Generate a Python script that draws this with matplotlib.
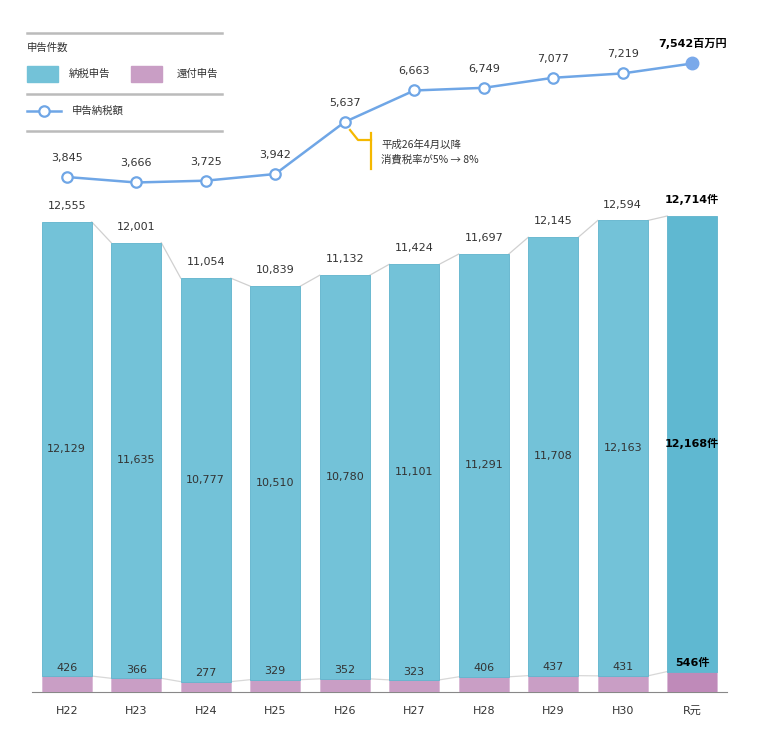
import numpy as np
import matplotlib.pyplot as plt

plt.rcParams['font.family'] = ['DejaVu Sans', 'Noto Sans CJK JP']

years = ['H22', 'H23', 'H24', 'H25', 'H26', 'H27', 'H28', 'H29', 'H30', 'R元']
payment = [12129, 11635, 10777, 10510, 10780, 11101, 11291, 11708, 12163, 12168]
refund = [426, 366, 277, 329, 352, 323, 406, 437, 431, 546]
totals = [12555, 12001, 11054, 10839, 11132, 11424, 11697, 12145, 12594, 12714]
tax_amount = [3845, 3666, 3725, 3942, 5637, 6663, 6749, 7077, 7219, 7542]

W, H = 758, 736
fig = plt.figure(figsize=(W / 100, H / 100), dpi=100)

def px(x0, y0, x1, y1):
    # pixel box (top-left origin) -> figure fraction
    return [x0 / W, 1 - y1 / H, (x1 - x0) / W, (y1 - y0) / H]

blue = '#73c2d8'
blue_last = '#5fb8d1'
pink = '#c99ec5'
pink_last = '#bf8ab9'
line_c = '#6fa6e6'
gray_txt = '#333333'

base_y = 692
scale = 0.03744  # px per unit
ax = fig.add_axes(px(32, 0, 727, base_y))
ax.set_xlim(-0.5, 9.5)
ax.set_ylim(0, base_y / scale)

x = np.arange(len(years))
bw = 0.72
pc = [blue] * 9 + [blue_last]
rc = [pink] * 9 + [pink_last]
ax.bar(x, refund, bw, color=rc, edgecolor='#d9b8d6', linewidth=0.6, zorder=3)
ax.bar(x, payment, bw, bottom=refund, color=pc, edgecolor='#5fb3cc', linewidth=0.6, zorder=3)

# connector lines between bars
for i in range(len(x) - 1):
    ax.plot([x[i] + bw / 2, x[i + 1] - bw / 2], [totals[i], totals[i + 1]],
            color='#d0d0d0', lw=0.9, zorder=2)
    ax.plot([x[i] + bw / 2, x[i + 1] - bw / 2], [refund[i], refund[i + 1]],
            color='#d8d8d8', lw=0.9, zorder=2)

for i in range(len(x)):
    last = i == len(x) - 1
    fw = 'bold' if last else 'normal'
    suf = '件' if last else ''
    ax.text(x[i], totals[i] + 290, f'{totals[i]:,}{suf}', ha='center', va='bottom',
            fontsize=8, color='black' if last else gray_txt, fontweight=fw)
    ax.text(x[i], refund[i] + payment[i] / 2, f'{payment[i]:,}{suf}', ha='center', va='center',
            fontsize=8, color='black' if last else gray_txt, fontweight=fw)
    ax.text(x[i], refund[i] + 90, f'{refund[i]:,}{suf}', ha='center', va='bottom',
            fontsize=8, color='black' if last else gray_txt, fontweight=fw)

ax.set_xticks(x)
ax.set_xticklabels(years, fontsize=8, color=gray_txt)
ax.tick_params(axis='x', length=0, pad=10)
ax.set_yticks([])
for s in ['top', 'left', 'right']:
    ax.spines[s].set_visible(False)
ax.spines['bottom'].set_color('#888888')
ax.patch.set_alpha(0)

# line chart on twin axis
ax2 = ax.twinx()
ax2.set_ylim(-12930, 9610)
ax2.plot(x, tax_amount, color=line_c, lw=1.8, zorder=4)
ax2.plot(x[:-1], tax_amount[:-1], 'o', ms=7.5, mfc='white', mec=line_c, mew=1.6, zorder=5)
ax2.plot(x[-1:], tax_amount[-1:], 'o', ms=9, mfc='#7aa9ea', mec='#7aa9ea', zorder=5)
for i in range(len(x)):
    last = i == len(x) - 1
    lbl = f'{tax_amount[i]:,}百万円' if last else f'{tax_amount[i]:,}'
    ax2.text(x[i], tax_amount[i] + 460, lbl, ha='center', va='bottom', fontsize=8,
             color='black' if last else gray_txt, fontweight='bold' if last else 'normal')
ax2.set_yticks([])
ax2.axis('off')

# annotation bracket and note
ov = fig.add_axes([0, 0, 1, 1])
ov.set_xlim(0, W)
ov.set_ylim(H, 0)
ov.axis('off')
orange = '#f5b800'
ov.plot([350, 358, 371], [130, 140, 140], color=orange, lw=1.6)
ov.plot([371, 371], [133, 169], color=orange, lw=1.6)
jp = ['Noto Sans CJK JP', 'DejaVu Sans']
ov.text(381, 145, '平成26年4月以降', fontsize=7.5, color=gray_txt, va='center', family=jp)
ov.text(381, 160, '消費税率が5% → 8%', fontsize=7.5, color=gray_txt, va='center', family=jp)

# legend block
for yy in [33, 94, 131]:
    ov.plot([27, 222], [yy, yy], color='#bbbbbb', lw=1.8)
ov.text(27, 48, '申告件数', fontsize=7.5, color=gray_txt, va='center', family=jp)
ov.add_patch(plt.Rectangle((27, 66), 31, 16, color=blue))
ov.text(69, 74, '納税申告', fontsize=7.5, color=gray_txt, va='center', family=jp)
ov.add_patch(plt.Rectangle((131, 66), 31, 16, color=pink))
ov.text(177, 74, '還付申告', fontsize=7.5, color=gray_txt, va='center', family=jp)
ov.plot([27, 61], [111, 111], color=line_c, lw=1.8)
ov.plot([44], [111], 'o', ms=7.5, mfc='white', mec=line_c, mew=1.6)
ov.text(72, 111, '申告納税額', fontsize=7.5, color=gray_txt, va='center', family=jp)

plt.savefig('out.png', dpi=100)
